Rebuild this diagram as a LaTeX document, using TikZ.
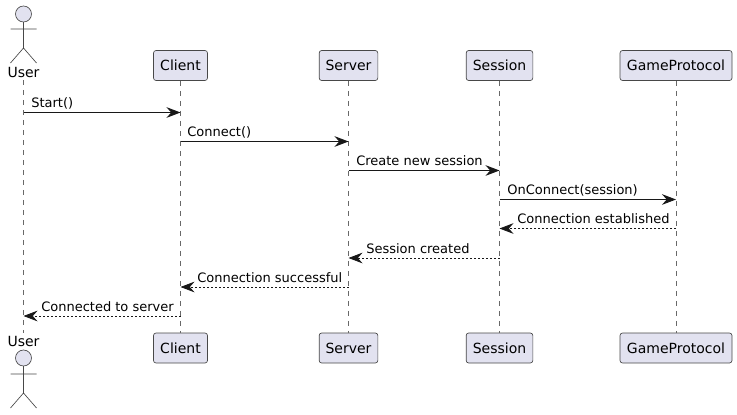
\documentclass[tikz,border=0pt]{standalone}
\usepackage{fontspec}
\setmainfont{DejaVu Sans}
\usetikzlibrary{arrows.meta}

\definecolor{partfill}{HTML}{E2E2F0}
\definecolor{partline}{HTML}{484848}
\definecolor{lifeline}{HTML}{686868}
\definecolor{callline}{HTML}{181818}
\tikzset{
	part/.style = {draw=partline, fill=partfill, line width=0.5pt, rounded corners=1.9pt, minimum height=22.5pt, inner sep=0pt, font=\fontsize{10.5}{12}\selectfont},
	actorlabel/.style = {font=\fontsize{10.5}{12}\selectfont, inner sep=0pt, outer ysep=2pt},
	actorline/.style = {draw=partline, line width=0.5pt},
	life/.style = {draw=lifeline, line width=0.5pt, dash pattern=on 3.75pt off 3.75pt},
	call/.style = {draw=callline, line width=0.75pt, -{Stealth[length=10.5pt, width=8pt, inset=3.5pt]}},
	back/.style = {call, line width=0.6pt, dash pattern=on 1.5pt off 1.5pt},
	msg/.style = {font=\fontsize{9.75}{12}\selectfont, anchor=base west, inner sep=0pt},
}

\begin{document}
\begin{tikzpicture}[x=0.75pt, y=-0.75pt]
			\useasboundingbox (0,0) rectangle (737,414);

			\node [actorlabel] (userT) at (23.5,72) {User};
			\node [actorlabel] (userB) at (23.5,341) {User};
			\node [part, minimum width=40.5pt] (clientT) at (180.5,65.5) {Client};
			\node [part, minimum width=40.5pt] (clientB) at (180.5,348) {Client};
			\node [part, minimum width=44pt] (serverT) at (348.5,65.5) {Server};
			\node [part, minimum width=44pt] (serverB) at (348.5,348) {Server};
			\node [part, minimum width=50pt] (sessionT) at (499.5,65.5) {Session};
			\node [part, minimum width=50pt] (sessionB) at (499.5,348) {Session};
			\node [part, minimum width=84pt] (gameT) at (676,65.5) {GameProtocol};
			\node [part, minimum width=84pt] (gameB) at (676,348) {GameProtocol};

			% lifelines
			\draw [life] (userT) -- (userB);
			\draw [life] (clientT) -- (clientB);
			\draw [life] (serverT) -- (serverB);
			\draw [life] (sessionT) -- (sessionB);
			\draw [life] (gameT) -- (gameB);

			% stick figures
			\draw [actorline, fill=partfill] (23.5,14) circle (8);
			\draw [actorline] (23.5,22) -- (23.5,48) (10.5,29) -- (36.5,29) (10.5,63) -- (23.5,48) -- (36.5,63);
			\draw [actorline, fill=partfill] (23.5,358) circle (8);
			\draw [actorline] (23.5,366) -- (23.5,393) (10.5,374) -- (36.5,374) (10.5,408) -- (23.5,393) -- (36.5,408);

			% messages
			\coordinate (m1) at (0,112.5);
			\coordinate (m2) at (0,141.5);
			\coordinate (m3) at (0,170.5);
			\coordinate (m4) at (0,199.5);
			\coordinate (m5) at (0,228.5);
			\coordinate (m6) at (0,258);
			\coordinate (m7) at (0,287);
			\coordinate (m8) at (0,316);
			\draw [call] (userT |- m1) -- (clientT |- m1);
			\draw [call] (clientT |- m2) -- (serverT |- m2);
			\draw [call] (serverT |- m3) -- (sessionT |- m3);
			\draw [call] (sessionT |- m4) -- (gameT |- m4);
			\draw [back] (gameT |- m5) -- (sessionT |- m5);
			\draw [back] (sessionT |- m6) -- (serverT |- m6);
			\draw [back] (serverT |- m7) -- (clientT |- m7);
			\draw [back] (clientT |- m8) -- (userT |- m8);
			\node [msg] (start) at (31,107.5) {Start()};
			\node [msg] (connect) at (187,136.5) {Connect()};
			\node [msg] (create) at (356,165.5) {Create new session};
			\node [msg] (onconn) at (507,194.5) {OnConnect(session)};
			\node [msg] (estab) at (517,223.5) {Connection established};
			\node [msg] (created) at (366,253) {Session created};
			\node [msg] (success) at (197,282) {Connection successful};
			\node [msg] (done) at (41,311) {Connected to server};
		\end{tikzpicture}
\end{document}
